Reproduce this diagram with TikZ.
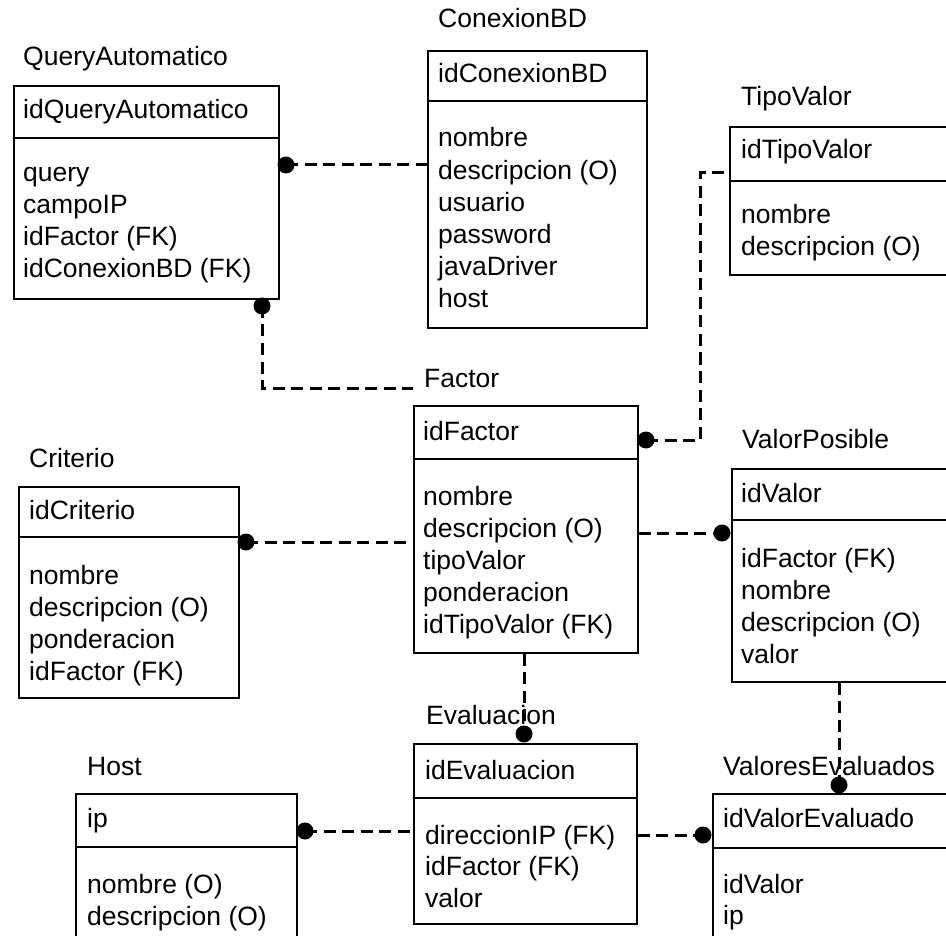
\documentclass[tikz,border=0pt]{standalone}
\usepackage{fontspec}
\setmainfont{Liberation Sans}
% one attribute per line: prefix, x, first baseline, line spacing, lines
\newcommand\attrlines[5]{%
  \foreach \t [count=\i from 0] in {#5} {\node[lbl] (#1-\i) at (#2,#3+\i*#4) {\t};}}
\begin{document}
\begin{tikzpicture}[x=1pt,y=-1pt,
  ent/.style={draw=black, line width=1.8pt, inner sep=0pt, anchor=north west},
  sep/.style={line width=1.8pt},
  lbl/.style={anchor=base west, inner sep=0pt, font=\fontsize{26.5}{32}\selectfont},
  rel/.style={line width=3pt, dash pattern=on 12pt off 6.5pt},
  fkdot/.style={circle, fill=black, inner sep=0pt, minimum size=17pt}]
\useasboundingbox (0,0) rectangle (946,936);
\clip (0,0) rectangle (946,936);

% ---------- QueryAutomatico ----------
\node[ent, minimum width=265pt, minimum height=213pt] (qa) at (13,85) {};
\draw[sep] (qa.west |- 0,138) -- (qa.east |- 0,138);
\node[lbl] (qa-title) at (23,66) {QueryAutomatico};
\node[lbl] (qa-key) at (23,119) {idQueryAutomatico};
\attrlines{qa}{23}{182}{32}{query,campoIP,idFactor (FK),idConexionBD (FK)}

% ---------- ConexionBD ----------
\node[ent, minimum width=219pt, minimum height=277pt] (cb) at (427,50) {};
\draw[sep] (cb.west |- 0,101) -- (cb.east |- 0,101);
\node[lbl] (cb-title) at (438,28) {ConexionBD};
\node[lbl] (cb-key) at (438,83) {idConexionBD};
\attrlines{cb}{438}{147}{32.2}{nombre,descripcion (O),usuario,password,javaDriver,host}

% ---------- TipoValor ----------
\node[ent, minimum width=240pt, minimum height=148pt] (tv) at (729,126) {};
\draw[sep] (tv.west |- 0,181) -- (tv.east |- 0,181);
\node[lbl] (tv-title) at (741,106) {TipoValor};
\node[lbl] (tv-key) at (741,159) {idTipoValor};
\attrlines{tv}{741}{224}{32}{nombre,descripcion (O)}

% ---------- Factor ----------
\node[ent, minimum width=224pt, minimum height=247pt] (fa) at (413,405) {};
\draw[sep] (fa.west |- 0,459) -- (fa.east |- 0,459);
\node[lbl] (fa-title) at (424,387) {Factor};
\node[lbl] (fa-key) at (423,440) {idFactor};
\attrlines{fa}{423}{505}{32}{nombre,descripcion (O),tipoValor,ponderacion,idTipoValor (FK)}

% ---------- Criterio ----------
\node[ent, minimum width=220pt, minimum height=211pt] (cr) at (18,486) {};
\draw[sep] (cr.west |- 0,537) -- (cr.east |- 0,537);
\node[lbl] (cr-title) at (29,467) {Criterio};
\node[lbl] (cr-key) at (29,519) {idCriterio};
\attrlines{cr}{29}{584}{32}{nombre,descripcion (O),ponderacion,idFactor (FK)}

% ---------- ValorPosible ----------
\node[ent, minimum width=240pt, minimum height=213pt] (vp) at (731,468) {};
\draw[sep] (vp.west |- 0,520) -- (vp.east |- 0,520);
\node[lbl] (vp-title) at (742,448) {ValorPosible};
\node[lbl] (vp-key) at (741,502) {idValor};
\attrlines{vp}{741}{567}{32}{idFactor (FK),nombre,descripcion (O),valor}

% ---------- Evaluacion ----------
\node[ent, minimum width=223pt, minimum height=180pt] (ev) at (413,743) {};
\draw[sep] (ev.west |- 0,798) -- (ev.east |- 0,798);
\node[lbl] (ev-title) at (426,724) {Evaluacion};
\node[lbl] (ev-key) at (425,779) {idEvaluacion};
\attrlines{ev}{425}{844}{31.5}{direccionIP (FK),idFactor (FK),valor}

% ---------- Host ----------
\node[ent, minimum width=221pt, minimum height=180pt] (ho) at (75,793) {};
\draw[sep] (ho.west |- 0,847) -- (ho.east |- 0,847);
\node[lbl] (ho-title) at (87,775) {Host};
\node[lbl] (ho-key) at (87,827) {ip};
\attrlines{ho}{87}{893}{32}{nombre (O),descripcion (O)}

% ---------- ValoresEvaluados ----------
\node[ent, minimum width=260pt, minimum height=180pt] (ve) at (712,793) {};
\draw[sep] (ve.west |- 0,848) -- (ve.east |- 0,848);
\node[lbl] (ve-title) at (723,775) {ValoresEvaluados};
\node[lbl] (ve-key) at (723,827) {idValorEvaluado};
\attrlines{ve}{723}{893}{31}{idValor,ip}

% ---------- relationships (dot marks the child end) ----------
\coordinate (d1) at (286,165);
\coordinate (d2) at (262,306);
\coordinate (d3) at (646,440);
\coordinate (d4) at (246,542);
\coordinate (d5) at (722,533);
\coordinate (d6) at (524,734);
\coordinate (d7) at (305,831);
\coordinate (d8) at (703,835);
\coordinate (d9) at (839,785);
\coordinate (fa-in) at (413,388);

\draw[rel] (d1) -- (cb.west |- d1);
\draw[rel] (d2) |- (fa-in);
\draw[rel] (d3) -| (700,173) -- (tv.west |- 0,173);
\draw[rel] (d4) -- (fa.west |- d4);
\draw[rel] (fa.east |- d5) -- (d5);
\draw[rel] (fa.south -| d6) -- (d6);
\draw[rel] (d7) -- (ev.west |- d7);
\draw[rel] (ev.east |- d8) -- (d8);
\draw[rel] (vp.south -| d9) -- (d9);

\foreach \d in {d1,d2,d3,d4,d5,d6,d7,d8,d9}
  \node[fkdot] (\d-dot) at (\d) {};
\end{tikzpicture}
\end{document}
